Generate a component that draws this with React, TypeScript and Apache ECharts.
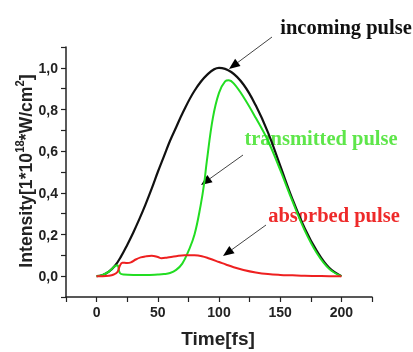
import React, { useEffect, useRef } from "react";
import * as echarts from "echarts";

// Time axis samples (fs) and intensities
const incomingT = [0, 5, 10, 15, 20, 25, 30, 35, 40, 45, 50, 55, 60, 65, 70, 80, 90, 100, 110, 120, 130, 140, 150, 160, 170, 180, 190, 200];
const incomingV = [0, 0.006, 0.022, 0.05, 0.095, 0.15, 0.21, 0.275, 0.345, 0.42, 0.5, 0.575, 0.65, 0.715, 0.78, 0.89, 0.965, 1.0, 0.98, 0.92, 0.82, 0.69, 0.53, 0.37, 0.23, 0.12, 0.04, 0];

const transT = [0, 5, 10, 15, 17, 19, 22, 30, 40, 50, 55, 60, 65, 70, 75, 80, 85, 88, 90, 95, 100, 105, 108, 112, 120, 130, 140, 150, 160, 170, 180, 190, 200];
const transV = [0, 0.006, 0.022, 0.048, 0.052, 0.015, 0.008, 0.006, 0.006, 0.008, 0.01, 0.015, 0.03, 0.06, 0.12, 0.2, 0.34, 0.45, 0.55, 0.76, 0.88, 0.935, 0.94, 0.925, 0.86, 0.76, 0.65, 0.51, 0.36, 0.22, 0.11, 0.035, 0];

const absT = [0, 5, 10, 14, 17, 19, 21, 25, 28, 32, 36, 40, 45, 50, 53, 58, 65, 72, 80, 86, 92, 100, 106, 112, 120, 130, 140, 150, 160, 170, 180, 190, 200];
const absV = [0, 0, 0.002, 0.008, 0.02, 0.05, 0.065, 0.063, 0.066, 0.08, 0.09, 0.095, 0.098, 0.092, 0.086, 0.09, 0.096, 0.1, 0.1, 0.096, 0.085, 0.068, 0.055, 0.043, 0.03, 0.018, 0.01, 0.006, 0.004, 0.002, 0.001, 0, 0];

const xLabels = [0, 50, 100, 150, 200];
const yLabels = [0, 0.2, 0.4, 0.6, 0.8, 1.0];

const labels = {
  incoming: "incoming pulse",
  transmitted: "transmitted pulse",
  absorbed: "absorbed pulse",
  xName: "Time[fs]",
};

const pairs = (t: number[], v: number[]) => t.map((x, i) => [x, v[i]]);

function arrow(x1: number, y1: number, x2: number, y2: number) {
  const dx = x2 - x1;
  const dy = y2 - y1;
  const len = Math.sqrt(dx * dx + dy * dy);
  const ux = dx / len;
  const uy = dy / len;
  const hl = 11;
  const hw = 4.5;
  const bx = x2 - ux * hl;
  const by = y2 - uy * hl;
  return [
    {
      type: "line",
      shape: { x1, y1, x2: bx, y2: by },
      style: { stroke: "#444", lineWidth: 1 },
    },
    {
      type: "polygon",
      shape: {
        points: [
          [x2, y2],
          [bx - uy * hw, by + ux * hw],
          [bx + uy * hw, by - ux * hw],
        ],
      },
      style: { fill: "#000" },
    },
  ];
}

export default function App() {
  const ref = useRef<HTMLDivElement>(null);
  useEffect(() => {
    const chart = echarts.init(ref.current!, null, { renderer: "svg" });
    const axisFont = { fontFamily: "Liberation Sans", fontWeight: "bold" as const, fontSize: 14, color: "#222" };
    const noteStyle = {
      align: "center" as const,
      verticalAlign: "middle" as const,
      fontFamily: "Liberation Serif",
      fontWeight: "bold" as const,
      fontSize: 20.5,
    };
    chart.setOption({
      animation: false,
      grid: { left: 66, top: 47, right: 41, bottom: 55, containLabel: false },
      xAxis: {
        type: "value",
        min: -25,
        max: 225,
        interval: 25,
        splitLine: { show: false },
        axisLine: { onZero: false, lineStyle: { color: "#222", width: 1.5 } },
        axisTick: { length: 5, lineStyle: { color: "#222", width: 1.2 } },
        axisLabel: {
          ...axisFont,
          margin: 8,
          formatter: (v: number) => (xLabels.includes(v) ? String(v) : ""),
        },
      },
      yAxis: {
        type: "value",
        min: -0.1,
        max: 1.1,
        interval: 0.1,
        splitLine: { show: false },
        axisLine: { onZero: false, lineStyle: { color: "#222", width: 1.5 } },
        axisTick: { length: 5, lineStyle: { color: "#222", width: 1.2 } },
        axisLabel: {
          ...axisFont,
          margin: 8,
          formatter: (v: number) => {
            const r = Math.round(v * 10) / 10;
            return yLabels.some((y) => Math.abs(y - r) < 1e-6) ? r.toFixed(1).replace(".", ",") : "";
          },
        },
      },
      series: [
        {
          type: "line",
          data: pairs(incomingT, incomingV),
          smooth: 0.4,
          symbol: "none",
          lineStyle: { color: "#111", width: 2.2 },
          z: 3,
        },
        {
          type: "line",
          data: pairs(transT, transV),
          smooth: 0.4,
          symbol: "none",
          lineStyle: { color: "#22dd22", width: 2 },
          z: 4,
        },
        {
          type: "line",
          data: pairs(absT, absV),
          smooth: 0.4,
          symbol: "none",
          lineStyle: { color: "#ee2020", width: 2 },
          z: 5,
        },
      ],
      graphic: [
        {
          type: "text",
          x: 25,
          y: 171,
          rotation: Math.PI / 2,
          scaleX: 0.93,
          style: {
            text: "{a|Intensity[1*10}{s|18}{a|*W/cm}{s|2}{a|]}",
            align: "center",
            verticalAlign: "middle",
            rich: {
              a: { fontFamily: "Liberation Sans", fontWeight: "bold", fontSize: 19, lineHeight: 22, fill: "#222" },
              s: { fontFamily: "Liberation Sans", fontWeight: "bold", fontSize: 12, lineHeight: 12, verticalAlign: "top", fill: "#222" },
            },
          },
        },
        {
          type: "text",
          x: 218,
          y: 338,
          style: {
            text: labels.xName,
            align: "center",
            verticalAlign: "middle",
            fontFamily: "Liberation Sans",
            fontWeight: "bold",
            fontSize: 19,
            fill: "#222",
          },
        },
        { type: "text", x: 346, y: 27, style: { ...noteStyle, text: labels.incoming, fill: "#111" } },
        { type: "text", x: 321, y: 138, style: { ...noteStyle, text: labels.transmitted, fill: "#5ee64a" } },
        { type: "text", x: 334, y: 215, style: { ...noteStyle, text: labels.absorbed, fill: "#ee2a2a" } },
        ...arrow(272, 37, 229, 69),
        ...arrow(243, 155, 201, 185),
        ...arrow(266, 225, 223, 256),
      ],
    });
    return () => chart.dispose();
  }, []);
  return <div ref={ref} style={{ position: "fixed", left: 0, top: 0, width: 413, height: 352 }} />;
}
